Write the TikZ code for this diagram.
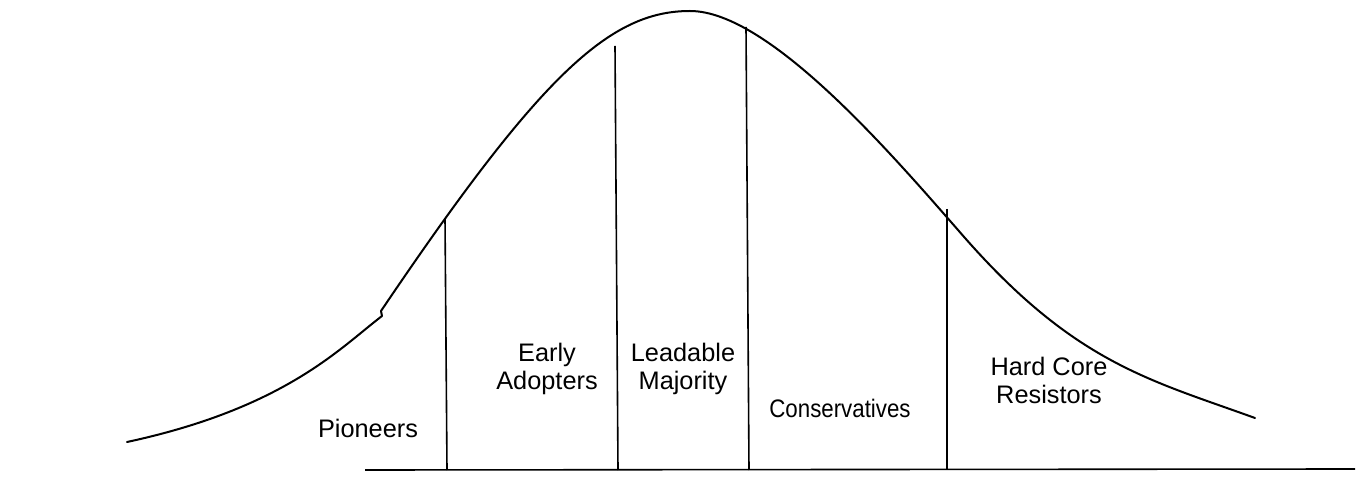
\documentclass[tikz,border=0pt]{standalone}
\usepackage{fontspec}
\setmainfont{Liberation Sans}
\begin{document}
\begin{tikzpicture}[x=0.75pt,y=-0.75pt,
  curve/.style={line width=1.5pt,line join=round,line cap=round},
  divider/.style={line width=1.2pt},
  axis/.style={line width=1.2pt},
  lbl/.style={font=\fontsize{19}{21.5}\selectfont,align=center,anchor=base,inner sep=0pt}]
\useasboundingbox (0,0) rectangle (1361,477);
% bell curve
\coordinate (c0) at (127,442);
\coordinate (c1) at (382,316);
\coordinate (c2) at (381,311);
\coordinate (peak) at (690,11);
\coordinate (infl) at (965,238);
\coordinate (cend) at (1255,418);
\draw[curve] (c0) .. controls (285,408) and (340,348) .. (c1)
  -- (c2)
  .. controls (541,74) and (610,11) .. (peak)
  .. controls (770,11) and (895,158) .. (infl)
  .. controls (1075,363) and (1150,380) .. (cend);
% baseline
\coordinate (bl) at (365,470);
\coordinate (br) at (1355,469);
\draw[axis] (bl) -- (br);
% dividers
\coordinate (t1) at (445,218); \coordinate (b1) at (447,470);
\coordinate (t2) at (615,46);  \coordinate (b2) at (618,470);
\coordinate (t3) at (746,27);  \coordinate (b3) at (749,470);
\coordinate (t4) at (947,209); \coordinate (b4) at (947,470);
\draw[divider] (t1) -- (b1);
\draw[divider] (t2) -- (b2);
\draw[divider] (t3) -- (b3);
\draw[divider] (t4) -- (b4);
% labels
\node[lbl] (pio) at (368,437) {Pioneers};
\node[lbl] (early) at (547,390) {Early\\Adopters};
\node[lbl] (lead) at (683,390) {Leadable\\Majority};
\node[lbl,xscale=0.88] (cons) at (840,417) {Conservatives};
\node[lbl] (hard) at (1049,404) {Hard Core\\Resistors};
\end{tikzpicture}
\end{document}
